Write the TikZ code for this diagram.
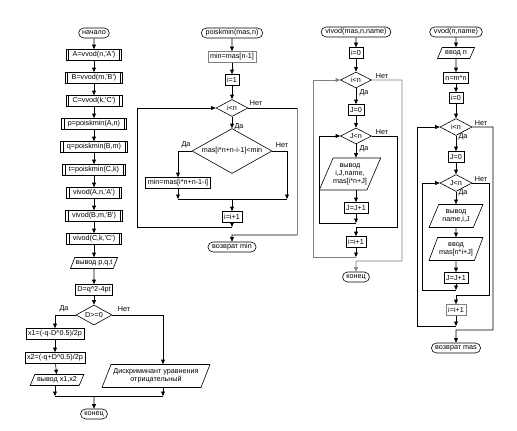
\documentclass[tikz,border=0pt]{standalone}
\usepackage{fontspec}
\setmainfont{Liberation Sans}[Ligatures=TeXOff]
\usetikzlibrary{arrows.meta,shapes.geometric,shapes.misc,calc}
\begin{document}
\begin{tikzpicture}[x=1pt,y=-1pt,
  font=\fontsize{7.2}{8}\selectfont,
  base/.style={draw, line width=0.6pt, inner ysep=0.8pt, minimum height=11pt, align=center},
  term/.style={base, rounded rectangle, inner xsep=3pt, minimum height=10pt},
  proc/.style={base, rectangle, inner xsep=2pt},
  pred/.style={base, rectangle, inner xsep=6.5pt,
    path picture={\draw[line width=0.6pt]
      ([xshift=2.5pt]path picture bounding box.north west) -- ([xshift=2.5pt]path picture bounding box.south west)
      ([xshift=-2.5pt]path picture bounding box.north east) -- ([xshift=-2.5pt]path picture bounding box.south east);}},
  io/.style={base, trapezium, trapezium stretches=true, trapezium left angle=62, trapezium right angle=118, inner xsep=0pt},
  dec/.style={base, diamond, inner sep=0pt},
  arr/.style={-{Triangle[length=4.5pt,width=3.8pt]}, line width=0.6pt},
  ln/.style={line width=0.6pt},
  lbl/.style={inner sep=0.5pt},
  gr/.style={draw=black!50}
]
\useasboundingbox (0,0) rectangle (517,431);

% ---------- column 1 ----------
\node[term] (n1) at (94,33) {начало};
\node[pred] (A) at (94,55) {A=vvod(n,'A')};
\node[pred] (B) at (94,78) {B=vvod(m,'B')};
\node[pred] (C) at (94,101) {C=vvod(k,'C')};
\node[pred] (p) at (94,124) {p=poiskmin(A,n)};
\node[pred] (q) at (94,147) {q=poiskmin(B,m)};
\node[pred] (t) at (94,170) {t=poiskmin(C,k)};
\node[pred] (vA) at (94,193) {vivod(A,n,'A')};
\node[pred] (vB) at (94,216) {vivod(B,m,'B')};
\node[pred] (vC) at (94,239) {vivod(C,k,'C')};
\node[io, minimum width=47pt] (o1) at (94,263) {вывод p,q,t};
\node[proc] (D) at (94,290) {D=q\textasciicircum 2-4pt};
\node[dec, minimum width=36pt, minimum height=20pt, aspect=1.8] (dD) at (94,315) {D>=0};
\node[proc] (x1) at (55,334) {x1=(-q-D\textasciicircum 0.5)/2p};
\node[proc] (x2) at (55,358) {x2=(-q+D\textasciicircum 0.5)/2p};
\node[io, minimum width=54pt] (ox) at (57,380) {вывод x1,x2};
\node[io, minimum height=23pt, minimum width=108pt] (disc) at (156,376) {Дискриминант уравнения\\отрицательный};
\node[term] (e1) at (94,414) {конец};
\coordinate (cL) at (55,315);
\coordinate (cR) at (163,315);
\coordinate (mL) at (55,396);
\coordinate (mR) at (163,396);
\coordinate (mC) at (94,396);

\foreach \a/\b in {n1/A,A/B,B/C,C/p,p/q,q/t,t/vA,vA/vB,vB/vC,vC/o1,o1/D,D/dD,x1/x2,x2/ox}
  \draw[arr] (\a) -- (\b);
\draw[arr] (dD.west) -- (cL) -- (x1);
\draw[arr] (dD.east) -- (cR) -- (cR |- disc.north);
\draw[arr] (ox.south -| mL) -- (mL);
\draw[arr] (disc.south -| mR) -- (mR);
\draw[ln] (mL) -- (mR);
\draw[arr] (mC) -- (e1);
\node[lbl] at (64,309) {Да};
\node[lbl] at (124,309) {Нет};

% ---------- column 2 ----------
\node[term] (pm) at (232,33) {poiskmin(mas,n)};
\node[proc, gr] (m1) at (232,57) {min=mas[n-1]};
\node[proc] (i1) at (232,80) {i=1};
\node[dec, minimum width=32pt, minimum height=17pt, aspect=1.9] (d1) at (232,108) {i<n};
\node[dec, minimum width=80pt, minimum height=45pt, aspect=1.78] (d2) at (232,151) {mas[i*n+n-i-1]<min};
\node[proc] (mm) at (178,183) {min=mas[i*n+n-1-i]};
\node[proc] (inc) at (232,217) {i=i+1};
\node[term] (ret) at (232,247) {возврат min};
\coordinate (b2L) at (178,151);
\coordinate (b2R) at (287,151);
\coordinate (b2RB) at (287,199);
\coordinate (b2LB) at (178,199);
\coordinate (b2C) at (232,199);
\coordinate (lp1) at (232,227);
\coordinate (lp2) at (137,227);
\coordinate (lp3) at (137,108);
\coordinate (ex1) at (297,108);
\coordinate (ex2) at (297,235);
\coordinate (ex3) at (232,235);

\draw[arr] (pm) -- (m1);
\draw[arr] (m1) -- (i1);
\draw[arr] (i1) -- (d1);
\draw[arr] (d1) -- (d2);
\draw[arr] (d2.west) -- (b2L) -- (mm);
\draw[arr] (d2.east) -- (b2R) -- (b2RB);
\draw[arr] (mm) -- (b2LB);
\draw[ln] (b2LB) -- (b2RB);
\draw[arr] (b2C) -- (inc);
\draw[arr] (inc) -- (lp1);
\draw[arr] (lp1) -- (lp2) -- (lp3) -- (d1.west);
\draw[ln] (d1.east) -- (ex1);
\draw[ln, gr] (ex1) -- (ex2);
\draw[arr] (ex2) -- (ex3) -- (ret);
\node[lbl] at (256,103) {Нет};
\node[lbl] at (239,127) {Да};
\node[lbl] at (186,145) {Да};
\node[lbl] at (282,145) {Нет};

% ---------- column 3 ----------
\node[term] (vm) at (356,32) {vivod(mas,n,name)};
\node[proc] (i0) at (356,53) {i=0};
\node[dec, minimum width=31pt, minimum height=16pt, aspect=1.9] (c1) at (356,80) {i<n};
\node[proc] (j0) at (356,110) {J=0};
\node[dec, minimum width=31pt, minimum height=16pt, aspect=1.9] (c2) at (356,136) {J<n};
\node[io, trapezium left angle=59, trapezium right angle=121, minimum height=32pt, minimum width=57pt] (o3) at (350,174) {вывод\\i,J,name,\\mas[i*n+J]};
\node[proc] (jinc) at (356,208) {J=J+1};
\node[proc] (iinc) at (356,242) {i=i+1};
\node[term] (end3) at (356,277) {конец};
\coordinate (u1) at (356,223);
\coordinate (u2) at (319,223);
\coordinate (u3) at (319,136);
\coordinate (u4) at (397,136);
\coordinate (u5) at (397,227);
\coordinate (u6) at (356,227);
\coordinate (w1) at (356,257);
\coordinate (w2) at (313,257);
\coordinate (w3) at (313,80);
\coordinate (w4) at (402,80);
\coordinate (w5) at (402,261);
\coordinate (w6) at (356,261);
\draw[arr] (vm) -- (i0);
\draw[arr] (i0) -- (c1);
\draw[arr] (c1) -- (j0);
\draw[arr] (j0) -- (c2);
\draw[arr] (c2) -- (c2 |- o3.north);
\draw[arr] (o3.south -| jinc) -- (jinc);
\draw[arr] (jinc) -- (u1);
\draw[arr] (u1) -- (u2) -- (u3) -- (c2.west);
\draw[arr] (c2.east) -- (u4) -- (u5) -- (u6) -- (iinc);
\draw[arr] (iinc) -- (w1);
\draw[arr, gr] (w1) -- (w2) -- (w3) -- (c1.west);
\draw[arr, gr] (c1.east) -- (w4) -- (w5) -- (w6) -- (end3);
\node[lbl] at (382,76) {Нет};
\node[lbl] at (364,93) {Да};
\node[lbl] at (382,132) {Нет};
\node[lbl] at (364,149) {Да};

% ---------- column 4 ----------
\node[term] (vv) at (456,32) {vvod(n,name)};
\node[io, minimum width=37pt] (vn) at (456,53) {ввод n};
\node[proc] (nm) at (456,78) {n=m*n};
\node[proc] (i0b) at (456,98) {i=0};
\node[dec, minimum width=32pt, minimum height=17pt, aspect=1.9] (f1) at (456,127) {i<n};
\node[proc] (j0b) at (456,157) {J=0};
\node[dec, minimum width=32pt, minimum height=17pt, aspect=1.9] (f2) at (456,183) {J<n};
\node[io, minimum height=23pt, minimum width=54pt] (o4) at (456,216) {вывод\\name,i,J};
\node[io, minimum height=23pt, minimum width=54pt] (in4) at (456,249) {ввод\\mas[n*i+J]};
\node[proc] (jinc4) at (456,278) {J=J+1};
\node[proc, gr] (iinc4) at (456,310) {i=i+1};
\node[term] (ret4) at (456,348) {возврат mas};
\coordinate (s1) at (456,290);
\coordinate (s2) at (422,290);
\coordinate (s3) at (422,183);
\coordinate (s4) at (489,183);
\coordinate (s5) at (489,295);
\coordinate (s6) at (456,295);
\coordinate (r1) at (456,326);
\coordinate (r2) at (417,326);
\coordinate (r3) at (417,127);
\coordinate (r4) at (493,127);
\coordinate (r5) at (493,330);
\coordinate (r6) at (456,330);
\draw[arr] (vv) -- (vn);
\draw[arr] (vn) -- (nm);
\draw[arr] (nm) -- (i0b);
\draw[arr] (i0b) -- (f1);
\draw[arr] (f1) -- (j0b);
\draw[arr] (j0b) -- (f2);
\draw[arr] (f2) -- (o4);
\draw[arr] (o4) -- (in4);
\draw[arr] (in4) -- (jinc4);
\draw[arr] (jinc4) -- (s1);
\draw[arr] (s1) -- (s2) -- (s3) -- (f2.west);
\draw[arr] (f2.east) -- (s4) -- (s5) -- (s6) -- (iinc4);
\draw[arr] (iinc4) -- (r1);
\draw[arr] (r1) -- (r2) -- (r3) -- (f1.west);
\draw[arr] (f1.east) -- (r4) -- (r5) -- (r6) -- (ret4);
\node[lbl] at (481,123) {Нет};
\node[lbl] at (463,137) {Да};
\node[lbl] at (481,179) {Нет};
\node[lbl] at (463,193) {Да};
\end{tikzpicture}
\end{document}
